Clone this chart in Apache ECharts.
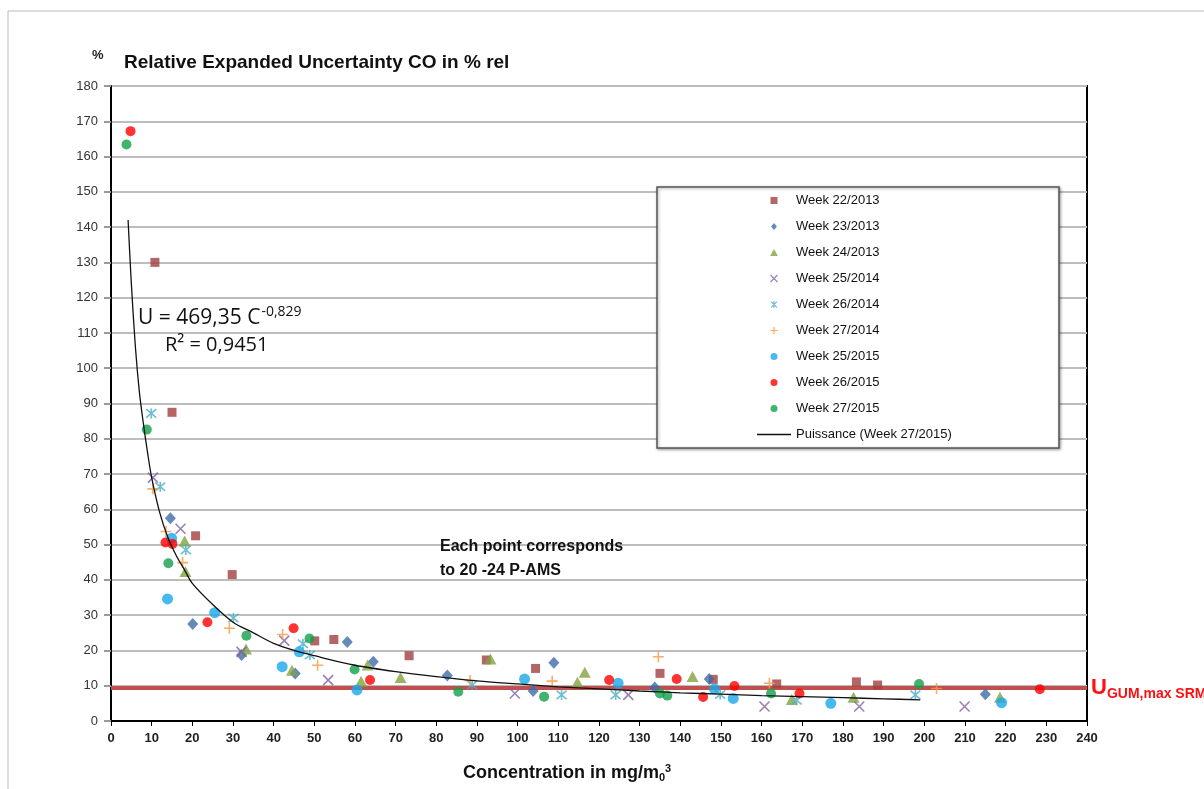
<!DOCTYPE html>
<html>
<head>
<meta charset="utf-8">
<script src="https://cdn.jsdelivr.net/npm/echarts@6/dist/echarts.min.js"></script>
<style>
html,body{margin:0;padding:0;background:#fff;}
#chart{width:1204px;height:789px;}
</style>
</head>
<body>
<div id="chart"></div>
<script>
// ---- data ----
var week22_2013 = [[10.8,130],[15,87.5],[20.8,52.5],[29.8,41.5],[50.1,22.7],[54.8,23.1],[73.3,18.5],[92.3,17.3],[104.4,14.9],[135,13.5],[148.1,11.8],[163.7,10.5],[183.3,11.1],[188.5,10.2]];
var week23_2013 = [[14.6,57.5],[20.1,27.5],[32.1,18.7],[45.3,13.5],[58.1,22.4],[64.5,16.8],[82.7,12.9],[103.8,8.5],[108.9,16.5],[133.7,9.5],[147.1,11.9],[215,7.6]];
var week24_2013 = [[18.1,51],[18.3,42.4],[33.2,20.4],[44.5,14.4],[61.5,11.3],[63.1,15.9],[71.2,12.3],[93.3,17.6],[114.7,11],[116.5,13.8],[143,12.6],[167.4,6.1],[182.6,6.7],[218.6,6.7]];
var week25_2014 = [[10.3,69],[17.1,54.5],[32.1,19.6],[42.6,22.8],[53.4,11.6],[99.3,7.8],[127.2,7.4],[160.7,4.1],[184,4.1],[209.9,4.1]];
var week26_2014 = [[9.9,87.2],[12.1,66.4],[18.4,48.5],[30.1,29.2],[47.2,21.9],[48.9,18.7],[88.8,10.2],[110.8,7.4],[124.1,7.4],[149.8,7.5],[168.6,5.9],[197.8,7.4]];
var week27_2014 = [[10.3,65.8],[13.5,53.7],[17.6,44.9],[29.1,26.3],[42.2,24.5],[50.8,15.8],[88.3,11.5],[108.5,11.3],[134.6,18.2],[161.9,10.7],[203,9.2]];
var week25_2015 = [[14.9,51.8],[13.9,34.6],[25.5,30.7],[42.1,15.4],[46.3,19.6],[60.5,8.8],[101.7,11.9],[124.7,10.7],[148.4,9.1],[153,6.4],[177,5],[219,5.2]];
var week26_2015 = [[4.8,167.2],[13.4,50.6],[15.1,50.2],[23.7,28],[44.9,26.3],[63.7,11.6],[122.5,11.6],[139.1,11.9],[145.6,6.8],[153.3,9.9],[169.3,7.8],[228.4,9]];
var week27_2015 = [[3.8,163.4],[8.8,82.6],[14.1,44.7],[33.3,24.2],[48.8,23.4],[59.9,14.6],[85.4,8.3],[106.5,6.9],[135,7.8],[136.8,7.2],[162.3,7.8],[198.7,10.5]];
// trend line (Puissance)
var trendX = [4.2,5,6,7,8,9,10,12,14,16,18,20,25,30,35,40,45,50,60,70,80,90,100,110,120,130,140,150,160,170,180,190,199];
var trendY = [142,124,106,93,84,76,69,59,52,47,43,39,33,28,25,22,20,18.5,15.8,14,12.6,11.4,10.5,9.7,9.1,8.5,8.0,7.6,7.2,6.9,6.6,6.3,6.0];
var uGumMaxSrm = 9.3;
var legendNames = ['Week 22/2013','Week 23/2013','Week 24/2013','Week 25/2014','Week 26/2014','Week 27/2014','Week 25/2015','Week 26/2015','Week 27/2015','Puissance (Week 27/2015)'];
var yTicks = {min:0, max:180, interval:10};
var xTicks = {min:0, max:240, interval:10};

var FONT = '"Liberation Sans", Arial, sans-serif';
var SYM_X = 'path://M0,0L10,10M10,0L0,10';
var SYM_PLUS = 'path://M5,0L5,10M0,5L10,5';
var SYM_AST = 'path://M0,0L10,10M10,0L0,10M5,-1L5,11';
var ICON_RECT = 'path://M0,0L10,0L10,10L0,10Z';
var ICON_DIAM = 'path://M5,0L10,6L5,12L0,6Z';
var ICON_TRI = 'path://M5,0L10,9L0,9Z';
var ICON_LINE = 'path://M0,0L34,0L34,1.3L0,1.3Z';

function scatter(name, data, symbol, size, color, stroked){
  return {
    name: name, type: 'scatter', data: data, symbol: symbol, symbolSize: size, z: 3,
    itemStyle: stroked ? {color: 'rgba(0,0,0,0)', borderColor: color, borderWidth: 1.6} : {color: color}
  };
}
var trend = [];
for (var i = 0; i < trendX.length; i++) trend.push([trendX[i], trendY[i]]);

var series = [
  scatter(legendNames[0], week22_2013, 'rect', 9, '#A0403E'),
  scatter(legendNames[1], week23_2013, 'diamond', [11,12], '#3F6CA8'),
  scatter(legendNames[2], week24_2013, 'triangle', [12,11], '#82A23E'),
  scatter(legendNames[3], week25_2014, SYM_X, 10, '#7F62A2', true),
  scatter(legendNames[4], week26_2014, SYM_AST, 10, '#4BACC6', true),
  scatter(legendNames[5], week27_2014, SYM_PLUS, 11, '#F79646', true),
  scatter(legendNames[6], week25_2015, 'circle', 11, '#1AA7EA'),
  scatter(legendNames[7], week26_2015, 'circle', 10, '#FF0000'),
  scatter(legendNames[8], week27_2015, 'circle', 10, '#12A04A'),
  {
    name: legendNames[9], type: 'line', data: trend, symbol: 'none', smooth: 0.3, z: 4,
    lineStyle: {color: '#111', width: 1.3}, itemStyle: {color: '#111'},
    markLine: {
      silent: true, symbol: ['none','none'], z: 2,
      lineStyle: {color: '#C0504D', width: 4, type: 'solid'},
      data: [{yAxis: uGumMaxSrm}],
      label: {
        position: 'end', distance: 4,
        formatter: '{u|U}{s|GUM,max SRM}',
        rich: {
          u: {color: '#FF1010', fontSize: 22, fontWeight: 'bold', fontFamily: FONT},
          s: {color: '#FF1010', fontSize: 14, fontWeight: 'bold', fontFamily: FONT, padding: [12,0,0,0]}
        }
      }
    }
  }
];

var legendIcons = [
  {icon: ICON_RECT, itemStyle: {color: '#A0403E'}},
  {icon: ICON_DIAM, itemStyle: {color: '#3F6CA8'}},
  {icon: ICON_TRI, itemStyle: {color: '#82A23E'}},
  {icon: SYM_X, itemStyle: {color: 'rgba(0,0,0,0)', borderColor: '#7F62A2', borderWidth: 1.2}},
  {icon: SYM_AST, itemStyle: {color: 'rgba(0,0,0,0)', borderColor: '#4BACC6', borderWidth: 1.2}},
  {icon: SYM_PLUS, itemStyle: {color: 'rgba(0,0,0,0)', borderColor: '#F79646', borderWidth: 1.2}},
  {icon: 'circle', itemStyle: {color: '#1AA7EA'}},
  {icon: 'circle', itemStyle: {color: '#FF0000'}},
  {icon: 'circle', itemStyle: {color: '#12A04A'}},
  {icon: ICON_LINE, itemStyle: {color: '#111', borderWidth: 0}}
];
var legendData = legendNames.map(function(n, i){
  return {name: n, icon: legendIcons[i].icon, itemStyle: legendIcons[i].itemStyle};
});

var chart = echarts.init(document.getElementById('chart'), null, {renderer: 'canvas'});
chart.setOption({
  animation: false,
  backgroundColor: '#fff',
  grid: {left: 111, right: 117, top: 86, bottom: 68, show: true, borderColor: '#000', borderWidth: 2, backgroundColor: 'rgba(0,0,0,0)'},
  title: {
    text: 'Relative Expanded Uncertainty CO in % rel', left: 119, top: 48,
    textStyle: {fontFamily: FONT, fontSize: 19, fontWeight: 'bold', color: '#111'}
  },
  legend: {
    orient: 'vertical', left: 757, top: 194, padding: 0, z: 20,
    itemWidth: 34, itemHeight: 7, itemGap: 13, symbolKeepAspect: true,
    textStyle: {fontFamily: FONT, fontSize: 13, color: '#111', lineHeight: 13},
    data: legendData
  },
  xAxis: {
    type: 'value', min: xTicks.min, max: xTicks.max, interval: xTicks.interval,
    axisLine: {show: true, onZero: false, lineStyle: {color: '#000', width: 2}},
    axisTick: {show: true, length: 5, lineStyle: {color: '#000'}},
    axisLabel: {fontFamily: FONT, fontSize: 13, fontWeight: 'bold', color: '#222', margin: 11},
    splitLine: {show: false}
  },
  yAxis: {
    type: 'value', min: yTicks.min, max: yTicks.max, interval: yTicks.interval,
    axisLine: {show: true, lineStyle: {color: '#000', width: 2}},
    axisTick: {show: true, length: 7, lineStyle: {color: '#999', width: 2}},
    axisLabel: {fontFamily: FONT, fontSize: 13, color: '#333', margin: 13},
    splitLine: {show: true, lineStyle: {color: '#BDBDBD', width: 2}}
  },
  graphic: [
    {type: 'rect', z: -10, silent: true, shape: {x: 8, y: 11, width: 1400, height: 1000}, style: {fill: 'none', stroke: '#BBBBBB', lineWidth: 1}},
    {type: 'rect', z: 10, silent: true, shape: {x: 657, y: 187, width: 402, height: 261},
     style: {fill: '#fff', stroke: '#555', lineWidth: 1.5, shadowBlur: 3, shadowColor: 'rgba(0,0,0,0.35)', shadowOffsetX: 1, shadowOffsetY: 1}},
    {type: 'text', z: 10, left: 92, top: 49, style: {text: '%', fontFamily: FONT, fontSize: 13, fontWeight: 'bold', fill: '#222'}},
    {type: 'text', z: 10, left: 138, top: 305, style: {
      text: '{t|U = 469,35 C}{p|-0,829}', rich: {
        t: {fontFamily: '"Open Sans", sans-serif', fontSize: 21, fill: '#111', lineHeight: 26},
        p: {fontFamily: '"Open Sans", sans-serif', fontSize: 14, fill: '#111', verticalAlign: 'top', padding: [0,0,10,1]}
      }}},
    {type: 'text', z: 10, left: 165, top: 335, style: {text: 'R² = 0,9451', fontFamily: '"Open Sans", sans-serif', fontSize: 20, fill: '#111'}},
    {type: 'text', z: 10, left: 440, top: 535, style: {text: 'Each point corresponds\nto 20 -24 P-AMS', fontFamily: FONT, fontSize: 16, fontWeight: 'bold', fill: '#111', lineHeight: 24}},
    {type: 'text', z: 10, left: 463, top: 763, style: {
      text: '{b|Concentration in mg/m}{sub|0}{sup|3}', rich: {
        b: {fontFamily: FONT, fontSize: 18, fontWeight: 'bold', fill: '#111', lineHeight: 22},
        sub: {fontFamily: FONT, fontSize: 11, fontWeight: 'bold', fill: '#111', padding: [9,0,0,0]},
        sup: {fontFamily: FONT, fontSize: 11, fontWeight: 'bold', fill: '#111', padding: [0,0,9,0]}
      }}}
  ],
  series: series
});
</script>
</body>
</html>
